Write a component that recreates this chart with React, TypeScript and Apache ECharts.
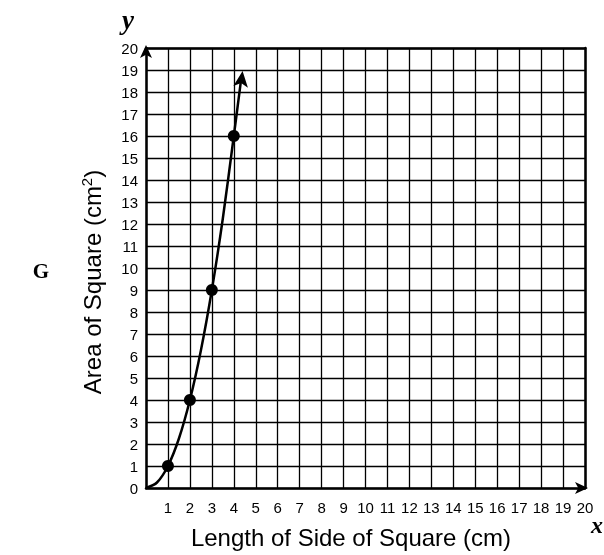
import React, { useEffect, useRef } from "react";
import * as echarts from "echarts";

const sideLengths = [1, 2, 3, 4];
const areas = [1, 4, 9, 16];
// points (side, area)
const curvePoints: [number, number][] = [
  [0, 0], [0.5, 0.25], [1, 1], [1.5, 2.25], [2, 4], [2.5, 6.25],
  [3, 9], [3.5, 12.25], [4, 16], [4.35, 18.7],
];
const arrowAt: [number, number] = [4.4, 18.95];
const xTitle = "Length of Side of Square (cm)";
const yTitle = "Area of Square (cm{sup|2})";

export default function App() {
  const ref = useRef<HTMLDivElement>(null);
  useEffect(() => {
    const chart = echarts.init(ref.current!, null, { renderer: "svg" });
    const font = "'Liberation Sans', Arial, Helvetica, sans-serif";
    const serif = "'Liberation Serif', 'Times New Roman', serif";
    chart.setOption({
      animation: false,
      grid: { left: 146, top: 48, right: 19, bottom: 67, show: false },
      xAxis: [
        {
          type: "value", min: 0, max: 20, interval: 1,
          axisLine: { show: true, lineStyle: { color: "#000", width: 2.5 }, symbol: ["none", "arrow"], symbolSize: [9, 13], symbolOffset: [0, 3] },
          axisTick: { show: false },
          splitLine: { show: true, lineStyle: { color: "#000", width: 1.3 } },
          axisLabel: { color: "#000", fontSize: 15, fontFamily: font, margin: 12, formatter: (v: number) => (v === 0 ? "" : String(v)), showMaxLabel: true },
        },
        {
          type: "value", min: 0, max: 20, interval: 1, position: "top",
          axisLine: { show: true, onZero: false, lineStyle: { color: "#000", width: 2.5 } },
          axisTick: { show: false }, axisLabel: { show: false }, splitLine: { show: false },
        },
      ],
      yAxis: [
        {
          type: "value", min: 0, max: 20, interval: 1,
          axisLine: { show: true, lineStyle: { color: "#000", width: 2.5 }, symbol: ["none", "arrow"], symbolSize: [9, 13], symbolOffset: [0, 3] },
          axisTick: { show: false },
          splitLine: { show: true, lineStyle: { color: "#000", width: 1.3 } },
          axisLabel: { color: "#000", fontSize: 15, fontFamily: font, margin: 8 },
        },
        {
          type: "value", min: 0, max: 20, interval: 1, position: "right",
          axisLine: { show: true, onZero: false, lineStyle: { color: "#000", width: 2.5 } },
          axisTick: { show: false }, axisLabel: { show: false }, splitLine: { show: false },
        },
      ],
      series: [
        {
          type: "line", data: curvePoints, smooth: 0.3, symbol: "none",
          lineStyle: { color: "#000", width: 2.5 }, z: 3,
          markPoint: {
            symbol: "arrow", symbolSize: [11, 16], symbolRotate: -7,
            itemStyle: { color: "#000", opacity: 1 }, label: { show: false },
            data: [{ coord: arrowAt }],
          },
        },
        {
          type: "scatter", data: sideLengths.map((x, i) => [x, areas[i]]),
          symbol: "circle", symbolSize: 12, itemStyle: { color: "#000", opacity: 1 }, z: 4,
        },
      ],
      graphic: [
        {
          type: "text", x: 351, y: 537,
          style: { text: xTitle, font: `24px ${font}`, fill: "#000", align: "center", verticalAlign: "middle" },
        },
        {
          type: "text", x: 92, y: 282, rotation: Math.PI / 2,
          style: {
            text: yTitle, font: `24px ${font}`, fill: "#000", align: "center", verticalAlign: "middle",
            rich: { sup: { fontSize: 15, fontFamily: font, verticalAlign: "bottom", padding: [0, 0, 12, 0] } },
          },
        },
        { type: "text", x: 128, y: 20, style: { text: "y", font: `bold italic 27px ${serif}`, fill: "#000", align: "center", verticalAlign: "middle" } },
        { type: "text", x: 597, y: 525, style: { text: "x", font: `bold italic 24px ${serif}`, fill: "#000", align: "center", verticalAlign: "middle" } },
        { type: "text", x: 41, y: 271, style: { text: "G", font: `bold 21px ${serif}`, fill: "#000", align: "center", verticalAlign: "middle" } },
      ],
    });
    return () => chart.dispose();
  }, []);
  return <div ref={ref} style={{ position: "fixed", left: 0, top: 0, width: 604, height: 555 }} />;
}
